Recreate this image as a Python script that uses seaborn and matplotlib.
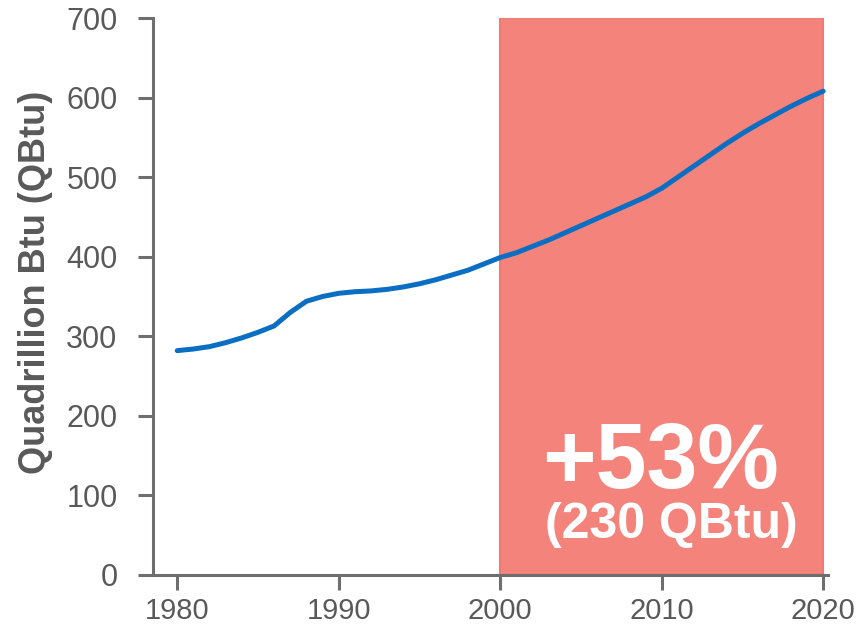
import matplotlib
matplotlib.use("Agg")
import matplotlib.pyplot as plt
import seaborn as sns
import pandas as pd

# World energy consumption, quadrillion Btu
years = list(range(1980, 2021))
consumption = [282, 284, 287, 292, 298, 305, 313, 330, 344, 350,
               354, 356, 357, 359, 362, 366, 371, 377, 383, 391,
               399, 405, 413, 421, 430, 439, 448, 457, 466, 475,
               486, 500, 514, 528, 542, 555, 567, 578, 589, 599, 608]

x_ticks = [1980, 1990, 2000, 2010, 2020]
y_ticks = [0, 100, 200, 300, 400, 500, 600, 700]
growth_span = (2000, 2020)
growth_pct = "+53%"
growth_abs = "(230 QBtu)"

sns.set_style("ticks")
plt.rcParams["font.family"] = ["Liberation Sans", "DejaVu Sans"]

df = pd.DataFrame({"year": years, "qbtu": consumption})

fig = plt.figure(figsize=(8.61, 6.33), dpi=100)
ax = fig.add_axes([153 / 861, 58 / 633, 675 / 861, 557 / 633])

# highlighted projection period
ax.axvspan(growth_span[0], growth_span[1], ymin=0, ymax=1,
           facecolor="#F4837B", edgecolor="#EF7A72", linewidth=1.5, zorder=1)

sns.lineplot(data=df, x="year", y="qbtu", ax=ax, color="#0A6FC2",
             linewidth=3.6, zorder=3)

ax.set_xlim(1978.5, 2020.3)
ax.set_ylim(0, 700)
ax.set_xticks(x_ticks)
ax.set_yticks(y_ticks)

grey = "#595959"
ax.tick_params(axis="both", colors="#6E6E6E", labelcolor=grey,
               width=2.2, length=10.5)
ax.tick_params(axis="y", pad=15, labelsize=22)
ax.tick_params(axis="x", pad=5, labelsize=21)

for side in ("top", "right"):
    ax.spines[side].set_visible(False)
for side in ("left", "bottom"):
    ax.spines[side].set_color("#6E6E6E")
    ax.spines[side].set_linewidth(2.2)

ax.set_xlabel("")
ax.set_ylabel("Quadrillion Btu (QBtu)", color=grey, fontsize=26,
              fontweight="bold")
ax.yaxis.set_label_coords(-0.148, 0.526)

ax.text(2009.9, 140, growth_pct, color="white", fontsize=66,
        fontweight="bold", ha="center", va="center", zorder=4)
ax.text(2010.6, 63, growth_abs, color="white", fontsize=36,
        fontweight="bold", ha="center", va="center", zorder=4)

fig.savefig("out.png", dpi=100, facecolor="white")
